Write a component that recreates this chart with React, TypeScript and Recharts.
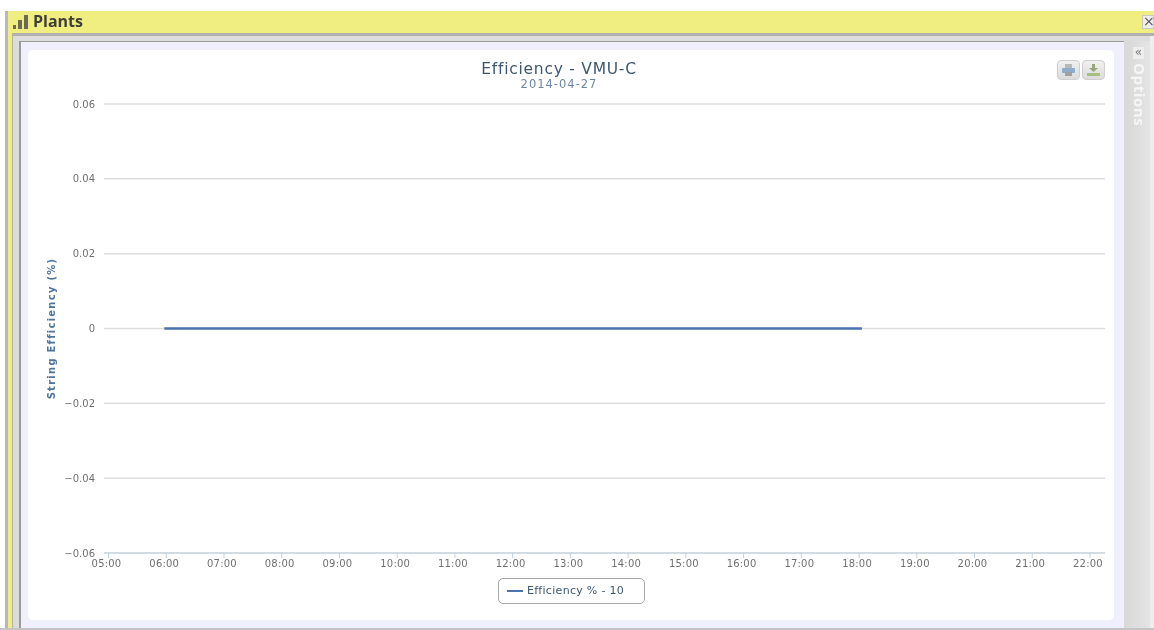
import { CSSProperties } from "react";
import { LineChart, Line, XAxis, YAxis, CartesianGrid, Legend } from "recharts";

// minutes since midnight, all readings sit on zero
const times = [358, 420, 480, 540, 600, 660, 720, 780, 840, 900, 960, 1020, 1083];
const efficiency = [0, 0, 0, 0, 0, 0, 0, 0, 0, 0, 0, 0, 0];
const hourTicks = [300, 360, 420, 480, 540, 600, 660, 720, 780, 840, 900, 960, 1020, 1080, 1140, 1200, 1260, 1320];
const valueTicks = [-0.06, -0.04, -0.02, 0, 0.02, 0.04, 0.06];

const data = times.map((t, i) => ({ t, value: efficiency[i] }));

const font = "'DejaVu Sans', sans-serif";

const box = (left: number, top: number, width: number, height: number, background: string): CSSProperties => ({
  position: "absolute",
  left,
  top,
  width,
  height,
  background,
});

const formatHour = (m: number) => `${String(m / 60).padStart(2, "0")}:00`;
const formatValue = (v: number) => (v === 0 ? "0" : v.toFixed(2).replace("-", "\u2212"));

function Frame() {
  return (
    <>
      <div style={box(5, 11, 1149, 619, "#b8b8b8")} />
      <div style={box(8, 11, 1146, 619, "#f0ee80")} />
      <div style={box(12, 33, 1142, 597, "#b0b0b0")} />
      <div style={box(13, 36, 1141, 594, "#dcdcdc")} />
      <div style={box(19, 41, 1105, 587, "#9a9a9a")} />
      <div style={box(21, 42, 1103, 586, "#f0f0fd")} />
      <div style={{ ...box(28, 50, 1086, 570, "#ffffff"), borderRadius: 5 }} />
      <div style={box(1124, 41, 26, 589, "linear-gradient(90deg, #d8d8d8, #e4e4e4)")} />
      <div style={box(1150, 36, 4, 594, "#eeeeee")} />
      <div style={box(0, 628, 1154, 2, "#c4c4c4")} />
    </>
  );
}

function Header() {
  return (
    <>
      {[
        [13, 25, 3, 4],
        [18, 20, 4, 9],
        [24, 15, 4, 14],
      ].map(([l, t, w, h]) => (
        <div key={l} style={box(l, t, w, h, "#6b6b58")} />
      ))}
      <div
        style={{
          position: "absolute",
          left: 33,
          top: 10,
          fontFamily: "'Open Sans', sans-serif",
          fontWeight: 700,
          fontSize: 16,
          color: "#3f3f3a",
        }}
      >
        Plants
      </div>
      <div
        style={{
          ...box(1142, 15, 12, 14, "#eeeeee"),
          border: "1px solid #c8c8c8",
          boxSizing: "border-box",
          fontFamily: font,
          fontSize: 14,
          lineHeight: "11px",
          textAlign: "center",
          color: "#555555",
        }}
      >
        ×
      </div>
    </>
  );
}

function OptionsPanel() {
  return (
    <>
      <div
        style={{
          ...box(1133, 47, 11, 12, "#eeeeee"),
          fontFamily: font,
          fontSize: 12,
          lineHeight: "10px",
          textAlign: "center",
          color: "#777777",
        }}
      >
        «
      </div>
      <div
        style={{
          position: "absolute",
          left: 1130,
          top: 63,
          writingMode: "vertical-rl",
          fontFamily: "'Open Sans', sans-serif",
          fontWeight: 700,
          fontSize: 15,
          color: "#f6f6f6",
          letterSpacing: 0.6,
        }}
      >
        Options
      </div>
    </>
  );
}

function ExportButton({ left, icon }: { left: number; icon: "print" | "save" }) {
  return (
    <div
      style={{
        ...box(left, 60, 23, 20, "linear-gradient(#f0f0f0, #dcdcdc)"),
        border: "1px solid #cfcfcf",
        borderRadius: 4,
        boxSizing: "border-box",
      }}
    >
      <svg width={21} height={18}>
        {icon === "print" ? (
          <>
            <rect x={7} y={3} width={7} height={4} fill="#b8b8b8" />
            <rect x={4} y={7} width={13} height={5} rx={1} fill="#8fadc9" />
            <rect x={7} y={11} width={7} height={4} fill="#a0a0a0" />
          </>
        ) : (
          <>
            <rect x={9} y={3} width={3} height={5} fill="#98a67c" />
            <path d="M6 7 L15 7 L10.5 11 Z" fill="#98a67c" />
            <rect x={4} y={12} width={13} height={3} fill="#a8bf80" />
          </>
        )}
      </svg>
    </div>
  );
}

function Titles() {
  const centered: CSSProperties = { position: "absolute", left: 28, width: 1062, textAlign: "center", fontFamily: font };
  return (
    <>
      <div style={{ ...centered, top: 60, fontSize: 15.5, letterSpacing: 0.75, color: "#3e576f" }}>Efficiency - VMU-C</div>
      <div style={{ ...centered, top: 77, fontSize: 11.5, letterSpacing: 1, color: "#6d869f" }}>2014-04-27</div>
    </>
  );
}

export default function App() {
  return (
    <div
      style={{
        position: "absolute",
        left: 0,
        top: 0,
        width: 1154,
        height: 630,
        overflow: "hidden",
        background: "#fff",
        filter: "blur(0.4px)",
      }}
    >
      <Frame />
      <Header />
      <OptionsPanel />
      <Titles />
      <ExportButton left={1057} icon="print" />
      <ExportButton left={1082} icon="save" />
      <div style={{ position: "absolute", left: 0, top: 0 }}>
        <LineChart width={1154} height={630} data={data} margin={{ top: 104, right: 49, bottom: 21, left: 44 }}>
          <CartesianGrid horizontal vertical={false} stroke="#dddddd" strokeWidth={1.5} />
          <XAxis
            dataKey="t"
            type="number"
            domain={[295.3, 1335.6]}
            ticks={hourTicks}
            tickFormatter={formatHour}
            interval={0}
            height={30}
            stroke="#c0d0e0"
            tickSize={5}
            tickMargin={2}
            tick={{ fontSize: 10, fontFamily: font, fill: "#707070", letterSpacing: 0.2, dx: -2 }}
          />
          <YAxis
            type="number"
            domain={[-0.06, 0.06]}
            ticks={valueTicks}
            tickFormatter={formatValue}
            interval={0}
            width={60}
            axisLine={false}
            tickLine={false}
            tickMargin={3}
            tick={{ fontSize: 10, fontFamily: font, fill: "#707070" }}
            label={{
              value: "String Efficiency (%)",
              angle: -90,
              position: "insideLeft",
              offset: 7,
              style: { textAnchor: "middle", fontSize: 10, fontWeight: 700, fontFamily: font, fill: "#4d759e", letterSpacing: 1.25 },
            }}
          />
          <Legend
            verticalAlign="bottom"
            iconType="plainline"
            iconSize={16}
            wrapperStyle={{
              position: "absolute",
              left: 498,
              top: 578,
              width: 147,
              height: 26,
              boxSizing: "border-box",
              border: "1px solid #a9a9a9",
              borderRadius: 5,
              paddingRight: 2,
              fontFamily: font,
              fontSize: 11,
              lineHeight: "24px",
            }}
            formatter={(name: string) => <span style={{ color: "#3e576f", letterSpacing: 0.3 }}>{name}</span>}
          />
          <Line
            dataKey="value"
            name="Efficiency % - 10"
            type="linear"
            stroke="#4a74ae"
            strokeWidth={2.5}
            dot={false}
            isAnimationActive={false}
          />
        </LineChart>
      </div>
    </div>
  );
}
